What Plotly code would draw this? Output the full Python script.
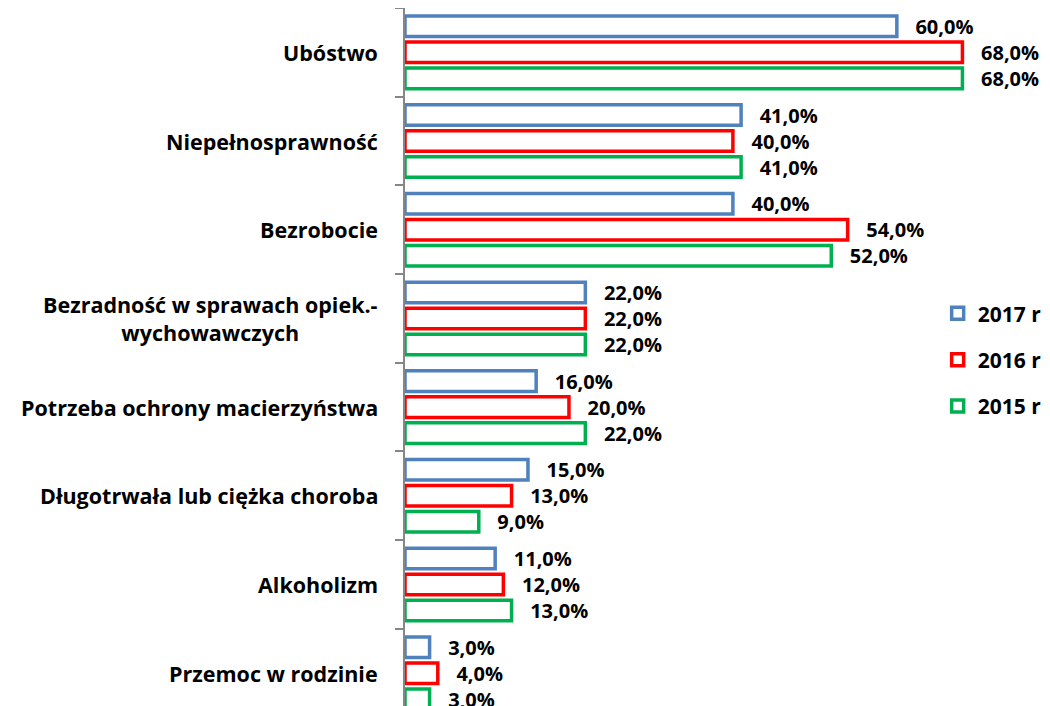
import plotly.graph_objects as go

categories = [
    "Ubóstwo",
    "Niepełnosprawność",
    "Bezrobocie",
    "Bezradność w sprawach opiek.-<br>wychowawczych",
    "Potrzeba ochrony macierzyństwa",
    "Długotrwała lub ciężka choroba",
    "Alkoholizm",
    "Przemoc w rodzinie",
]
years = ["2017 r", "2016 r", "2015 r"]
values_2017 = [60, 41, 40, 22, 16, 15, 11, 3]
values_2016 = [68, 40, 54, 22, 20, 13, 12, 4]
values_2015 = [68, 41, 52, 22, 22, 9, 13, 3]
colors = ["#4F81BD", "#FF0000", "#00B050"]

FONT = "Open Sans"

fig = go.Figure()
for year, vals, col in zip(years, [values_2017, values_2016, values_2015], colors):
    fig.add_trace(go.Bar(
        y=categories,
        x=vals,
        orientation="h",
        name=year,
        legendgroup=year,
        marker=dict(color="white", line=dict(color=col, width=3.5)),
        text=[f"   {v:.1f}%".replace(".", ",") for v in vals],
        textposition="outside",
        constraintext="none",
        cliponaxis=False,
        textfont=dict(family=FONT, size=20, color="black", weight="bold"),
    ))

# category labels as annotations so the two-line label stays centred
for cat in categories:
    fig.add_annotation(
        x=0, xref="paper", y=cat, yref="y",
        text=cat, showarrow=False,
        xanchor="right", xshift=-25, align="center",
        font=dict(family=FONT, size=21.5, color="black", weight="bold"),
    )

fig.update_layout(
    width=1050,
    height=706,
    plot_bgcolor="white",
    paper_bgcolor="white",
    barmode="group",
    bargap=0.12,
    bargroupgap=0.21,
    margin=dict(l=397, r=30, t=0, b=0),
    showlegend=True,
    legend=dict(
        x=0.855, y=0.596, xanchor="left", yanchor="top",
        font=dict(family=FONT, size=21, color="black", weight="bold"),
        tracegroupgap=16, itemwidth=30,
        bgcolor="rgba(0,0,0,0)",
    ),
    font=dict(family=FONT),
)
fig.update_xaxes(
    range=[0, 76], showgrid=False, showticklabels=False, zeroline=False,
    showline=False, ticks="", automargin=False,
)
fig.update_yaxes(
    range=[7.46, -0.5], showgrid=False, showticklabels=False,
    showline=True, linecolor="#868686", linewidth=2,
    ticks="outside", ticklen=8, tickcolor="#868686", tickwidth=2,
    tickson="boundaries", automargin=False,
)

fig.write_html("out.html")
